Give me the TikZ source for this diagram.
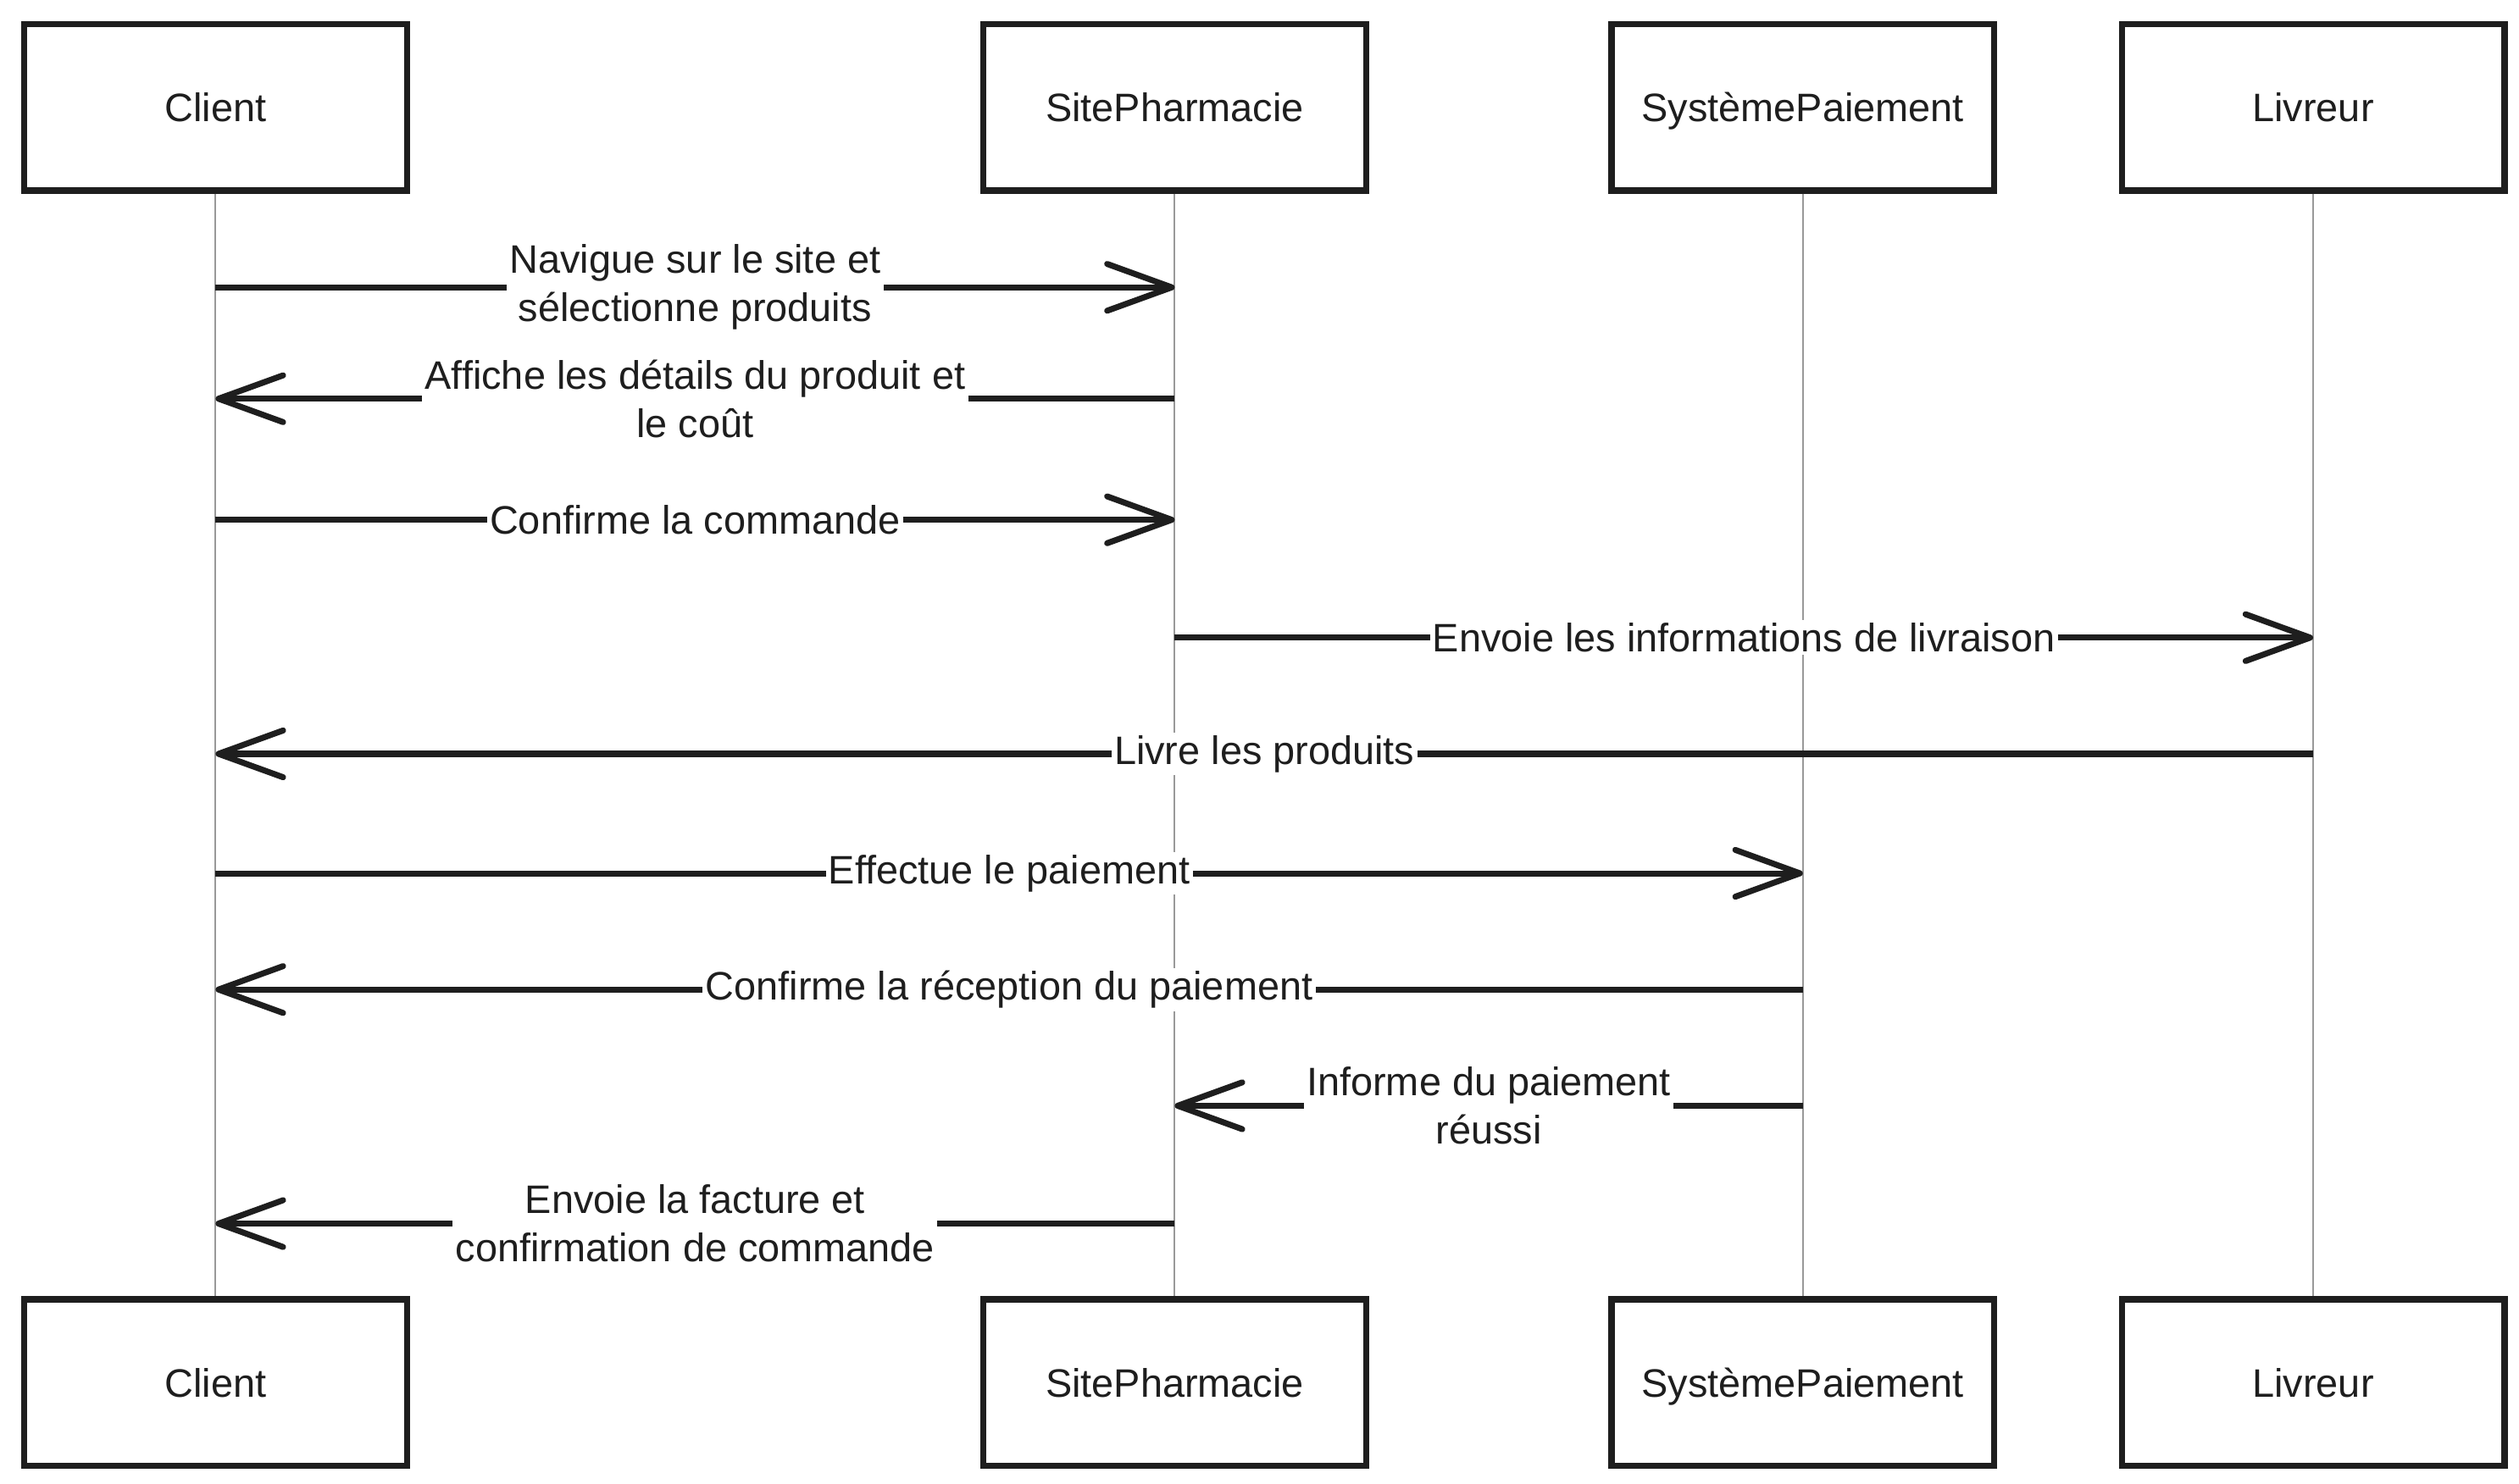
\documentclass[tikz,border=0pt]{standalone}
\usepackage{fontspec}
\setmainfont{Liberation Sans}
\usetikzlibrary{arrows.meta}
\definecolor{ink}{HTML}{1E1E1E}
\newcommand{\seqfont}{\fontsize{14}{17}\selectfont}
\tikzstyle{actor}=[rectangle,draw=ink,fill=white,line width=2.2pt,minimum width=4.74cm,minimum height=2.06cm,text height=11pt,text depth=1pt,font=\seqfont,text=ink]
\tikzstyle{lifeline}=[draw=black!40,line width=0.6pt]
\tikzstyle{msg}=[draw=ink,line width=2.1pt,->,>={Straight Barb[length=8mm,width=5.8mm,round]}]
\tikzstyle{msglabel}=[fill=white,inner sep=1pt,align=center,font=\seqfont,text=ink]

\begin{document}
\begin{tikzpicture}[x=0.02cm,y=-0.02cm]

   \useasboundingbox[fill=white] (0,0) rectangle (1560,919);

    \foreach \pos/\name/\txt in {{133.5/client/Client}, {727.5/site/SitePharmacie}, {1116.5/paiement/SystèmePaiement}, {1432.5/livreur/Livreur}}
    {
        \node[actor] (\name top) at (\pos,66.5) {\txt};
        \node[actor] (\name bot) at (\pos,856.5) {\txt};
        \draw[lifeline] (\name top) -- (\name bot);
    }

    \foreach \y/\source/\dest/\txt in {
        {178/client/site/{Navigue sur le site et\\sélectionne produits}},
        {247/site/client/{Affiche les détails du produit et\\le coût}},
        {322/client/site/{Confirme la commande}},
        {395/site/livreur/{Envoie les informations de livraison}},
        {467/livreur/client/{Livre les produits}},
        {541/client/paiement/{Effectue le paiement}},
        {613/paiement/client/{Confirme la réception du paiement}},
        {685/paiement/site/{Informe du paiement\\réussi}},
        {758/site/client/{Envoie la facture et\\confirmation de commande}}}
        \draw[msg] (\source top.south |- 0,\y) -- node[msglabel]{\txt} (\dest top.south |- 0,\y);

\end{tikzpicture}
\end{document}
